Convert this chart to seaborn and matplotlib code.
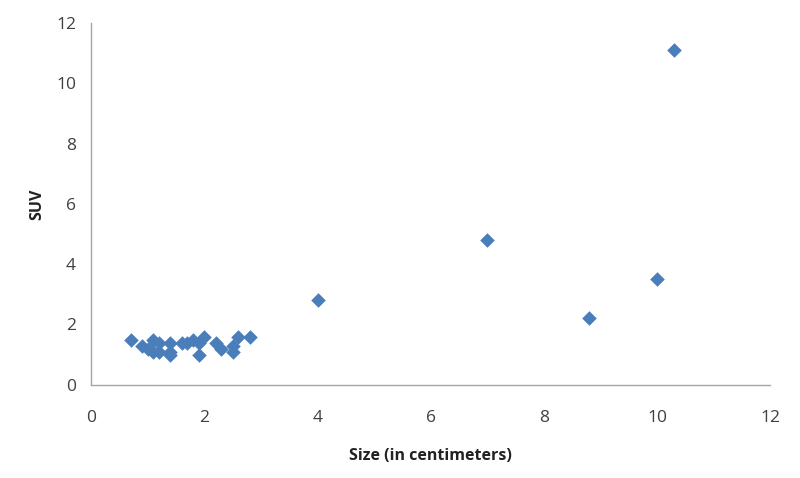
import matplotlib
matplotlib.use("Agg")
import matplotlib.pyplot as plt
import seaborn as sns
import pandas as pd

size_cm = [0.7, 0.9, 1.0, 1.1, 1.1, 1.2, 1.2, 1.4, 1.4, 1.4, 1.6, 1.7, 1.8, 1.9,
           1.9, 2.0, 2.2, 2.3, 2.5, 2.5, 2.6, 2.8, 4.0, 7.0, 8.8, 10.0, 10.3]
suv = [1.5, 1.3, 1.2, 1.5, 1.1, 1.4, 1.1, 1.0, 1.4, 1.1, 1.4, 1.4, 1.5, 1.0,
       1.4, 1.6, 1.4, 1.2, 1.1, 1.3, 1.6, 1.6, 2.8, 4.8, 2.2, 3.5, 11.1]
ticks = [0, 2, 4, 6, 8, 10, 12]

sns.set_style("white")
plt.rcParams['font.family'] = ['Open Sans', 'DejaVu Sans']

df = pd.DataFrame({"size": size_cm, "suv": suv})
fig = plt.figure(figsize=(8, 4.78), dpi=100)
ax = fig.add_axes([0.114, 0.195, 0.849, 0.757])
sns.scatterplot(data=df, x="size", y="suv", marker="D", s=55, color="#4A7EBB",
                edgecolor="#4A7EBB", linewidth=0, ax=ax)
ax.set_xlim(0, 12)
ax.set_ylim(0, 12)
ax.set_xticks(ticks)
ax.set_yticks(ticks)
for s in ["top", "right"]:
    ax.spines[s].set_visible(False)
for s in ["left", "bottom"]:
    ax.spines[s].set_color("#A6A6A6")
    ax.spines[s].set_linewidth(1)
ax.tick_params(axis="both", direction="out", length=5, width=1, color="#A6A6A6",
               labelsize=12.5, labelcolor="#404040", pad=6)
ax.tick_params(axis="x", pad=13)
ax.set_xlabel("Size (in centimeters)", fontsize=11.5, fontweight="bold", color="#222222", labelpad=16)
ax.set_ylabel("SUV", fontsize=11.5, fontweight="bold", color="#222222", labelpad=8)
fig.savefig("out.png", dpi=100)
